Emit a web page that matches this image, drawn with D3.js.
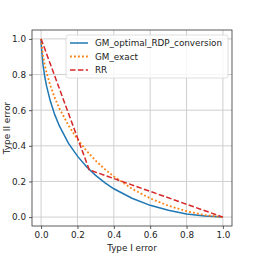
<!DOCTYPE html>
<html>
<head>
<meta charset="utf-8">
<script src="https://cdn.jsdelivr.net/npm/d3@7"></script>
<style>
  body { margin: 0; background: #fff; }
  svg { display: block; font-family: "DejaVu Sans", sans-serif; }
</style>
</head>
<body>
<svg width="258" height="258"></svg>
<script>
// values
let alphas = [0, 0.001, 0.01, 0.02, 0.03, 0.05, 0.075, 0.1, 0.15, 0.2, 0.25, 0.3, 0.35, 0.4, 0.5, 0.6, 0.7, 0.8, 0.9, 1.0];
let gmOptimal = [1, 0.967, 0.859, 0.789, 0.736, 0.654, 0.575, 0.513, 0.415, 0.342, 0.282, 0.234, 0.194, 0.159, 0.106, 0.066, 0.038, 0.018, 0.006, 0];
let gmExact = [1, 0.982, 0.908, 0.854, 0.811, 0.741, 0.670, 0.611, 0.515, 0.437, 0.372, 0.317, 0.269, 0.228, 0.159, 0.105, 0.064, 0.033, 0.011, 0];
let rrX = [0, 0.265, 1];
let rrY = [1, 0.265, 0];
let ticks = [0, 0.2, 0.4, 0.6, 0.8, 1.0];

let series = [
    { name: "GM_optimal_RDP_conversion", xs: alphas, ys: gmOptimal, color: "#1f77b4", dash: null, w: 1.5 },
    { name: "GM_exact", xs: alphas, ys: gmExact, color: "#ff7f0e", dash: "1.8,2.2", w: 1.8 },
    { name: "RR", xs: rrX, ys: rrY, color: "#d62728", dash: "5.5,2.4", w: 1.5 }
];

let svg = d3.select("svg");
let plotL = 32, plotR = 232, plotT = 30, plotB = 226;
let fs = 8.8;

let x = d3.scaleLinear().domain([-0.05, 1.05]).range([plotL, plotR]);
let y = d3.scaleLinear().domain([-0.05, 1.05]).range([plotB, plotT]);

// grid
let grid = svg.append("g");
grid.selectAll(".gx").data(ticks).enter().append("line")
    .attr("x1", d => x(d)).attr("x2", d => x(d))
    .attr("y1", plotT).attr("y2", plotB)
    .attr("stroke", "#cfcfcf").attr("stroke-width", 1);
grid.selectAll(".gy").data(ticks).enter().append("line")
    .attr("y1", d => y(d)).attr("y2", d => y(d))
    .attr("x1", plotL).attr("x2", plotR)
    .attr("stroke", "#cfcfcf").attr("stroke-width", 1);

// axes
svg.append("g")
    .attr("transform", "translate(0," + plotB + ")")
    .call(d3.axisBottom(x).tickValues(ticks).tickFormat(d3.format(".1f")).tickSizeOuter(0).tickSize(3).tickPadding(3));
svg.append("g")
    .attr("transform", "translate(" + plotL + ",0)")
    .call(d3.axisLeft(y).tickValues(ticks).tickFormat(d3.format(".1f")).tickSizeOuter(0).tickSize(3).tickPadding(3));
svg.selectAll(".domain").remove();
svg.selectAll(".tick text").attr("font-size", fs).attr("fill", "#222").attr("font-family", "DejaVu Sans");
svg.selectAll(".tick line").attr("stroke", "#333").attr("stroke-width", 0.8);

// lines
let line = d3.line().x(d => x(d[0])).y(d => y(d[1]));
svg.append("g").selectAll("path").data(series).enter().append("path")
    .attr("d", s => line(s.xs.map((v, i) => [v, s.ys[i]])))
    .attr("fill", "none")
    .attr("stroke", s => s.color)
    .attr("stroke-width", s => s.w)
    .attr("stroke-dasharray", s => s.dash);

// frame
svg.append("rect")
    .attr("x", plotL).attr("y", plotT)
    .attr("width", plotR - plotL).attr("height", plotB - plotT)
    .attr("fill", "none").attr("stroke", "#333").attr("stroke-width", 0.8);

// labels
svg.append("text").attr("x", (plotL + plotR) / 2).attr("y", 251)
    .attr("text-anchor", "middle").attr("font-size", fs).attr("fill", "#222").text("Type I error");
svg.append("text")
    .attr("transform", "translate(10," + ((plotT + plotB) / 2) + ") rotate(-90)")
    .attr("text-anchor", "middle").attr("font-size", fs).attr("fill", "#222").text("Type II error");

// legend
let legend = svg.append("g");
legend.append("rect")
    .attr("x", 66).attr("y", 35).attr("width", 162).attr("height", 43).attr("rx", 2)
    .attr("fill", "#fff").attr("fill-opacity", 0.8)
    .attr("stroke", "#d6d6d6").attr("stroke-width", 0.8);
let items = legend.selectAll(".item").data(series).enter().append("g")
    .attr("transform", (d, i) => "translate(0," + (43 + i * 13.5) + ")");
items.append("line")
    .attr("x1", 70).attr("x2", 88).attr("y1", 0).attr("y2", 0)
    .attr("stroke", d => d.color).attr("stroke-width", d => d.w)
    .attr("stroke-dasharray", d => d.dash);
items.append("text")
    .attr("x", 95).attr("y", 3.2).attr("font-size", fs).attr("fill", "#222")
    .text(d => d.name);
</script>
</body>
</html>
